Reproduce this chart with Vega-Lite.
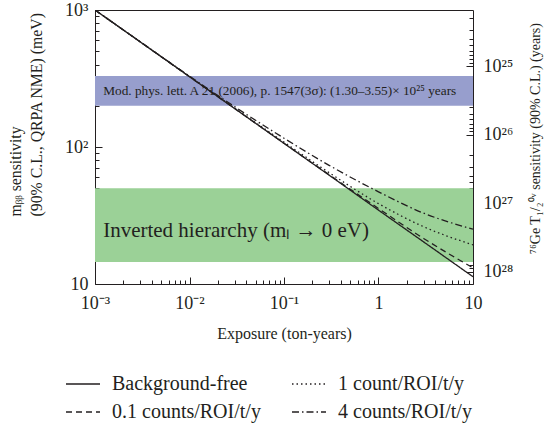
{
  "$schema": "https://vega.github.io/schema/vega-lite/v6.json",
  "width": 378,
  "height": 274,
  "autosize": "none",
  "padding": {"left": 95, "top": 10, "right": 75, "bottom": 140},
  "config": {
    "view": {"stroke": "#231f20", "strokeWidth": 1},
    "font": "Liberation Serif",
    "axis": {
      "grid": false,
      "domain": false,
      "labelFont": "Liberation Serif",
      "titleFont": "Liberation Serif",
      "labelColor": "#231f20",
      "titleColor": "#231f20",
      "tickColor": "#231f20",
      "titleFontWeight": "normal",
      "labelFontSize": 17,
      "titleFontSize": 16
    }
  },
  "datasets": {
    "bands": [
      {"band": "blue", "m": 200, "m_hi": 330},
      {"band": "green", "m": 14.5, "m_hi": 50}
    ],
    "notes": [
      {"note": "ref", "E": 0.00122, "m": 256, "text": "Mod. phys. lett. A 21 (2006), p. 1547(3σ): (1.30–3.55)× 10²⁵ years"},
      {"note": "ih", "E": 0.00122, "m": 24.4, "text": "Inverted hierarchy (mₗ → 0 eV)"}
    ],
    "lines": [
      {"series": "Background-free", "E": 0.001, "m": 1000},
      {"series": "Background-free", "E": 0.003, "m": 586},
      {"series": "Background-free", "E": 0.01, "m": 326},
      {"series": "Background-free", "E": 0.03, "m": 191},
      {"series": "Background-free", "E": 0.1, "m": 106.3},
      {"series": "Background-free", "E": 0.3, "m": 62.3},
      {"series": "Background-free", "E": 1, "m": 34.6},
      {"series": "Background-free", "E": 3, "m": 20.3},
      {"series": "Background-free", "E": 10, "m": 11.3},
      {"series": "0.1 counts/ROI/t/y", "E": 0.001, "m": 1000},
      {"series": "0.1 counts/ROI/t/y", "E": 0.003, "m": 586},
      {"series": "0.1 counts/ROI/t/y", "E": 0.01, "m": 326},
      {"series": "0.1 counts/ROI/t/y", "E": 0.03, "m": 191},
      {"series": "0.1 counts/ROI/t/y", "E": 0.1, "m": 106.6},
      {"series": "0.1 counts/ROI/t/y", "E": 0.3, "m": 62.8},
      {"series": "0.1 counts/ROI/t/y", "E": 1, "m": 35.6},
      {"series": "0.1 counts/ROI/t/y", "E": 3, "m": 21.5},
      {"series": "0.1 counts/ROI/t/y", "E": 10, "m": 13.1},
      {"series": "1 count/ROI/t/y", "E": 0.001, "m": 1000},
      {"series": "1 count/ROI/t/y", "E": 0.003, "m": 586},
      {"series": "1 count/ROI/t/y", "E": 0.01, "m": 327},
      {"series": "1 count/ROI/t/y", "E": 0.03, "m": 192.5},
      {"series": "1 count/ROI/t/y", "E": 0.1, "m": 108.5},
      {"series": "1 count/ROI/t/y", "E": 0.3, "m": 65},
      {"series": "1 count/ROI/t/y", "E": 1, "m": 38.6},
      {"series": "1 count/ROI/t/y", "E": 3, "m": 26.2},
      {"series": "1 count/ROI/t/y", "E": 10, "m": 19.3},
      {"series": "4 counts/ROI/t/y", "E": 0.001, "m": 1000},
      {"series": "4 counts/ROI/t/y", "E": 0.003, "m": 587},
      {"series": "4 counts/ROI/t/y", "E": 0.01, "m": 329},
      {"series": "4 counts/ROI/t/y", "E": 0.03, "m": 197},
      {"series": "4 counts/ROI/t/y", "E": 0.1, "m": 115.9},
      {"series": "4 counts/ROI/t/y", "E": 0.3, "m": 73.5},
      {"series": "4 counts/ROI/t/y", "E": 1, "m": 47.1},
      {"series": "4 counts/ROI/t/y", "E": 3, "m": 32.9},
      {"series": "4 counts/ROI/t/y", "E": 10, "m": 25.1}
    ],
    "halflife": [
      {"T": 1e25}, {"T": 1e26}, {"T": 1e27}, {"T": 1e28}
    ]
  },
  "layer": [
    {
      "encoding": {
        "y": {
          "field": "m", "type": "quantitative",
          "scale": {"type": "log", "domain": [10, 1000], "nice": false},
          "axis": {
            "orient": "left",
            "values": [10, 20, 30, 40, 50, 60, 70, 80, 90, 100, 200, 300, 400, 500, 600, 700, 800, 900, 1000],
            "labelExpr": "datum.value == 1000 ? '10³' : datum.value == 100 ? '10²' : datum.value == 10 ? '10' : ''",
            "tickSize": {"condition": {"test": "datum.value == 10 || datum.value == 100 || datum.value == 1000", "value": -7}, "value": -4},
            "labelPadding": 14,
            "labelFontSize": 18,
            "labelFlush": false,
            "labelOverlap": false,
            "title": ["mᵦᵦ sensitivity", "(90% C.L., QRPA NME) (meV)"],
            "titleFontSize": 15.8,
            "titleLineHeight": 21,
            "titleAngle": 270,
            "titleAlign": "left",
            "titleBaseline": "top",
            "titleX": -87,
            "titleY": 206
          }
        }
      },
      "layer": [
        {
          "data": {"name": "bands"},
          "transform": [{"filter": "datum.band == 'blue'"}],
          "mark": {"type": "rect", "color": "#979ecd", "opacity": 1},
          "encoding": {"y2": {"field": "m_hi"}}
        },
        {
          "data": {"name": "bands"},
          "transform": [{"filter": "datum.band == 'green'"}],
          "mark": {"type": "rect", "color": "#9bd197", "opacity": 1},
          "encoding": {"y2": {"field": "m_hi"}}
        },
        {
          "data": {"name": "lines"},
          "mark": {"type": "line", "color": "#231f20", "strokeWidth": 1.3, "interpolate": "monotone", "clip": true},
          "encoding": {
            "x": {
              "field": "E", "type": "quantitative",
              "scale": {"type": "log", "domain": [0.001, 10], "nice": false},
              "axis": {
                "values": [0.001, 0.002, 0.003, 0.004, 0.005, 0.006, 0.007, 0.008, 0.009, 0.01, 0.02, 0.03, 0.04, 0.05, 0.06, 0.07, 0.08, 0.09, 0.1, 0.2, 0.3, 0.4, 0.5, 0.6, 0.7, 0.8, 0.9, 1, 2, 3, 4, 5, 6, 7, 8, 9, 10],
                "labelExpr": "datum.value == 0.001 ? '10⁻³' : datum.value == 0.01 ? '10⁻²' : datum.value == 0.1 ? '10⁻¹' : datum.value == 1 ? '1' : datum.value == 10 ? '10' : ''",
                "tickSize": {"condition": {"test": "datum.value == 0.001 || datum.value == 0.01 || datum.value == 0.1 || datum.value == 1 || datum.value == 10", "value": -7}, "value": -4},
                "labelPadding": 17,
                "labelFontSize": 18,
                "labelFlush": false,
                "labelOverlap": false,
                "title": "Exposure (ton-years)",
                "titleFontSize": 16,
                "titlePadding": 10
              }
            },
            "detail": {"field": "series"},
            "strokeDash": {
              "field": "series", "type": "nominal",
              "scale": {
                "domain": ["Background-free", "0.1 counts/ROI/t/y", "1 count/ROI/t/y", "4 counts/ROI/t/y"],
                "range": [[1, 0], [6, 4], [1.5, 3], [7, 3, 1.5, 3]]
              },
              "legend": {
                "title": null,
                "orient": "none",
                "legendX": -30,
                "legendY": 356,
                "columns": 2,
                "columnPadding": 28,
                "rowPadding": -7,
                "symbolType": "stroke",
                "symbolSize": 1156,
                "symbolStrokeWidth": 1.3,
                "symbolStrokeColor": "#231f20",
                "labelFont": "Liberation Serif",
                "labelFontSize": 20,
                "labelColor": "#231f20",
                "labelOffset": 11,
                "labelLimit": 300
              }
            }
          }
        },
        {
          "data": {"name": "notes"},
          "transform": [{"filter": "datum.note == 'ref'"}],
          "mark": {"type": "text", "align": "left", "baseline": "middle", "fontSize": 13.3, "color": "#231f20", "font": "Liberation Serif"},
          "encoding": {
            "x": {"field": "E", "type": "quantitative"},
            "text": {"field": "text"}
          }
        },
        {
          "data": {"name": "notes"},
          "transform": [{"filter": "datum.note == 'ih'"}],
          "mark": {"type": "text", "align": "left", "baseline": "middle", "fontSize": 21, "color": "#231f20", "font": "Liberation Serif"},
          "encoding": {
            "x": {"field": "E", "type": "quantitative"},
            "text": {"field": "text"}
          }
        }
      ]
    },
    {
      "data": {"name": "halflife"},
      "mark": {"type": "point", "opacity": 0},
      "encoding": {
        "y": {
          "field": "T", "type": "quantitative",
          "scale": {"type": "log", "domain": [1.52e24, 1.52e28], "reverse": true, "nice": false},
          "axis": {
            "orient": "right",
            "values": [2e24, 3e24, 4e24, 5e24, 6e24, 7e24, 8e24, 9e24, 1e25, 2e25, 3e25, 4e25, 5e25, 6e25, 7e25, 8e25, 9e25, 1e26, 2e26, 3e26, 4e26, 5e26, 6e26, 7e26, 8e26, 9e26, 1e27, 2e27, 3e27, 4e27, 5e27, 6e27, 7e27, 8e27, 9e27, 1e28],
            "labelExpr": "datum.value == 1e25 ? '10²⁵' : datum.value == 1e26 ? '10²⁶' : datum.value == 1e27 ? '10²⁷' : datum.value == 1e28 ? '10²⁸' : ''",
            "tickSize": {"condition": {"test": "datum.value == 1e25 || datum.value == 1e26 || datum.value == 1e27 || datum.value == 1e28", "value": -7}, "value": -4},
            "labelPadding": 17,
            "labelFontSize": 18,
            "labelFlush": false,
            "labelOverlap": false,
            "title": "⁷⁶Ge T₁/₂⁰ᵛ sensitivity (90% C.L.) (years)",
            "titleFontSize": 14,
            "titleAngle": 270,
            "titleAlign": "center",
            "titleBaseline": "middle",
            "titleX": 62,
            "titleY": 128
          }
        }
      }
    }
  ],
  "resolve": {"scale": {"y": "independent"}}
}
